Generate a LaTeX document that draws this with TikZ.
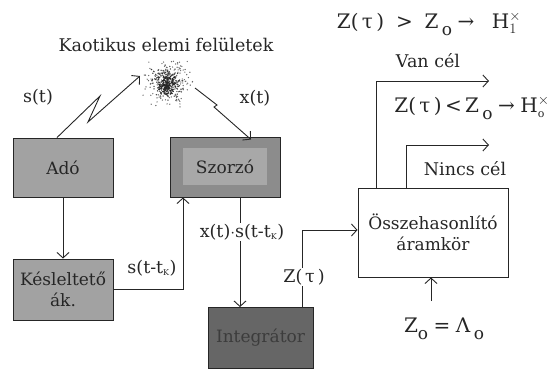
\documentclass[tikz,border=0pt]{standalone}
\usepackage{fontspec}
\setmainfont{DejaVu Serif}
\usetikzlibrary{arrows.meta}
\definecolor{boxlight}{HTML}{A2A2A2}
\definecolor{boxmid}{HTML}{8C8C8C}
\definecolor{boxinner}{HTML}{A8A8A8}
\definecolor{boxdark}{HTML}{666666}
\definecolor{ink}{HTML}{262626}
\newcommand{\lowsub}[1]{\raisebox{-7pt}{\fontsize{17}{17}\selectfont #1}}
\begin{document}
\begin{tikzpicture}[x=1pt,y=-1pt,
  wire/.style={line width=0.9pt, draw=ink},
  arr/.style={wire,-{Straight Barb[length=5.5pt,width=12pt,line width=0.9pt]}},
  block/.style={draw=ink, line width=0.9pt, inner sep=0pt, align=center,
    text=ink, font=\fontsize{17}{20.5}\selectfont},
  lbl/.style={text=ink, inner sep=1pt, font=\fontsize{17.5}{21}\selectfont, align=center},
  eqn/.style={text=ink, inner sep=1pt, font=\fontsize{20}{22}\selectfont}]
\useasboundingbox (0,0) rectangle (554,374);

% chaotic surface elements: a cloud of random dots
\pgfmathsetseed{7}
\foreach \i in {1,...,200}{
  \pgfmathsetmacro\dx{14*(rand+rand)}
  \pgfmathsetmacro\dy{13*(rand+rand)}
  \fill[ink!70] (167+\dx,82+\dy) circle (0.7pt);
}
\foreach \i in {1,...,160}{
  \pgfmathsetmacro\dx{9*(rand+rand)}
  \pgfmathsetmacro\dy{9*(rand+rand)}
  \fill[ink!90] (167+\dx,83+\dy) circle (0.75pt);
}
\foreach \i in {1,...,130}{
  \pgfmathsetmacro\dx{5*(rand+rand)}
  \pgfmathsetmacro\dy{6*(rand+rand)}
  \fill[ink] (166+\dx,85+\dy) circle (0.8pt);
}
\coordinate (cloudL) at (140,76);
\coordinate (cloudR) at (195,88);
\node[lbl] (title) at (166,45) {Kaotikus elemi felületek};

% blocks
\node[block, fill=boxlight, minimum width=100pt, minimum height=59pt] (ado) at (63,167.5) {Adó};
\node[block, fill=boxmid, minimum width=110pt, minimum height=60pt] (szorzo) at (225,167) {};
\node[fill=boxinner, minimum width=84pt, minimum height=37pt, inner sep=0pt,
  text=ink, font=\fontsize{17}{20.5}\selectfont] (szorzotxt) at (szorzo.center) {Szorzó};
\node[block, fill=boxlight, minimum width=100pt, minimum height=61pt] (kesl) at (63,289.5) {Késleltető\\ák.};
\node[block, fill=boxdark, text=ink!90, minimum width=105pt, minimum height=61pt] (integ) at (260.5,338) {Integrátor};
\node[block, fill=white, minimum width=150pt, minimum height=89pt] (comp) at (433,232.5) {Összehasonlító\\áramkör};

% transmitted and received signals
\node[lbl] (st) at (38,97) {s(t)};
\node[lbl] (xt) at (255,98) {x(t)};
\draw[arr] ([xshift=-6pt]ado.north) -- (100,96) -- (88,122) -- (cloudL);
\draw[arr] (cloudR) -- (217,105) -- (214,107) -- ([xshift=26pt,yshift=-3pt]szorzo.north);

% delay line
\draw[arr] (ado.south) -- (kesl.north);
\node[lbl] (sdel) at (152,268) {s(t-t\textsubscript{\footnotesize K})};
\draw[arr] (kesl.east) -| ([xshift=-42pt]szorzo.south);

% product to integrator
\node[lbl] (prod) at (242,232) {x(t)$\cdot$s(t-t\textsubscript{\footnotesize K})};
\draw[wire] ([xshift=15pt]szorzo.south) -- ([xshift=15pt]szorzo.south |- prod.north);
\draw[arr] ([xshift=-20.5pt]integ.north |- prod.south) -- ([xshift=-20.5pt]integ.north);

% integrator output to comparator
\node[lbl] (ztau) at (304,277) {Z(\,τ\,)};
\draw[wire] ([xshift=41.5pt]integ.north) -- ([xshift=41.5pt]integ.north |- ztau.south);
\draw[arr] ([xshift=41.5pt]integ.north |- ztau.north) |- ([yshift=2.5pt]comp.west);

% threshold
\node[eqn] (z0) at (444,329) {Z\lowsub{o}\;=\;Λ\,\lowsub{o}};
\coordinate (z0top) at (431,301);
\draw[arr] (z0top) -- ([xshift=-2pt]comp.south);

% decisions
\coordinate (h1) at (489,81);
\coordinate (h0) at (489,145);
\draw[arr] ([xshift=-57pt]comp.north) |- (h1);
\draw[arr] ([xshift=-27pt]comp.north) |- (h0);
\node[eqn] (eq1) at (429,24) {Z(\,τ\,)\; >\; Z\,\lowsub{o}\;→\;\; H$^{\times}_{1}$};
\node[lbl] (van) at (428,61) {Van cél};
\node[eqn] (eq0) at (472,108) {Z(\,τ\,)\,<\,Z\,\lowsub{o}\;→\;H$^{\times}_{\mbox{\fontsize{11}{11}\selectfont o}}$};
\node[lbl] (nincs) at (465,169) {Nincs cél};
\end{tikzpicture}
\end{document}
